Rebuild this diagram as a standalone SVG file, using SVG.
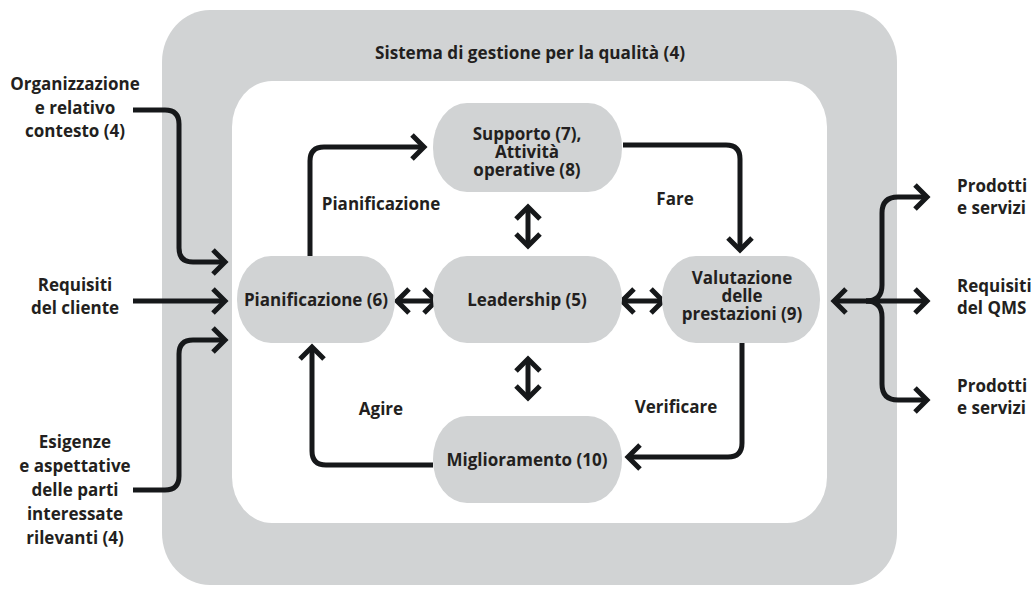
<svg xmlns="http://www.w3.org/2000/svg" width="1034" height="589" viewBox="0 0 1034 589">
<defs>
<style>
text{font-family:"Open Sans","Liberation Sans",sans-serif;font-weight:700;font-size:17px;fill:#231f20}
.c{text-anchor:middle}
.pill{fill:#d1d3d4}
.ln{fill:none;stroke:#16181a;stroke-width:5;stroke-linejoin:round}
.a{marker-end:url(#ah)}
.d{marker-start:url(#ah);marker-end:url(#ah)}
</style>
<marker id="ah" markerUnits="userSpaceOnUse" viewBox="-20 -20 40 40" markerWidth="40" markerHeight="40" refX="0" refY="0" orient="auto-start-reverse" overflow="visible">
<path d="M-12,-12 L0,0 L-12,12" fill="none" stroke="#16181a" stroke-width="5" stroke-linejoin="miter"/>
</marker>
</defs>
<rect width="1034" height="589" fill="#fff"/>
<g id="qms">
<rect x="162" y="10" width="735" height="575" rx="48" ry="52" fill="#d1d3d4"/>
<rect x="232" y="81" width="595" height="442" rx="40" ry="46" fill="#fff"/>
<text class="c" x="530" y="59" textLength="310" lengthAdjust="spacingAndGlyphs">Sistema di gestione per la qualità (4)</text>
</g>
<g id="connectors">
<path class="ln a" d="M133,110 H165 Q179,110 179,124 V248 Q179,262 193,262 H225"/>
<path class="ln a" d="M133,301 H225"/>
<path class="ln a" d="M133,490 H165 Q179,490 179,476 V354 Q179,340 193,340 H225"/>
<path class="ln a" d="M310,256 V161 Q310,147 324,147 H424"/>
<path class="ln a" d="M623,145 H726 Q740,145 740,159 V250"/>
<path class="ln a" d="M742,343 V443 Q742,457 728,457 H628"/>
<path class="ln a" d="M433,465 H326 Q312,465 312,451 V347"/>
<path class="ln d" d="M397,301 H436"/>
<path class="ln d" d="M622,301 H663"/>
<path class="ln d" d="M528,207 V246"/>
<path class="ln d" d="M528,359 V398"/>
<path class="ln d" d="M834,301 H927"/>
<path class="ln a" d="M866,301 Q882,301 882,285 V213 Q882,197 898,197 H927"/>
<path class="ln a" d="M866,301 Q882,301 882,317 V384 Q882,400 898,400 H927"/>
</g>
<g id="labels">
<text class="c" x="381" y="210">Pianificazione</text>
<text class="c" x="675" y="205">Fare</text>
<text class="c" x="381" y="415">Agire</text>
<text class="c" x="676" y="413">Verificare</text>
</g>
<g id="n-supporto">
<rect class="pill" x="433" y="103" width="189" height="89" rx="34" ry="44"/>
<text class="c" x="527" y="140">Supporto (7),<tspan x="527" dy="18">Attività</tspan><tspan x="527" dy="18">operative (8)</tspan></text>
</g>
<g id="n-pianificazione">
<rect class="pill" x="237" y="256" width="158" height="87" rx="34" ry="43"/>
<text class="c" x="316" y="306">Pianificazione (6)</text>
</g>
<g id="n-leadership">
<rect class="pill" x="433" y="256" width="189" height="87" rx="34" ry="43"/>
<text class="c" x="527" y="306">Leadership (5)</text>
</g>
<g id="n-valutazione">
<rect class="pill" x="662" y="256" width="158" height="87" rx="34" ry="43"/>
<text class="c" x="742" y="284">Valutazione<tspan x="742" dy="18">delle</tspan><tspan x="742" dy="18">prestazioni (9)</tspan></text>
</g>
<g id="n-miglioramento">
<rect class="pill" x="433" y="416" width="189" height="87" rx="34" ry="43"/>
<text class="c" x="527" y="466">Miglioramento (10)</text>
</g>
<g id="in-organizzazione">
<text class="c" x="75" y="90">Organizzazione<tspan x="75" dy="23.5">e relativo</tspan><tspan x="75" dy="23.5">contesto (4)</tspan></text>
</g>
<g id="in-requisiti">
<text class="c" x="75" y="291">Requisiti<tspan x="75" dy="23">del cliente</tspan></text>
</g>
<g id="in-esigenze">
<text class="c" x="75" y="448">Esigenze<tspan x="75" dy="24">e aspettative</tspan><tspan x="75" dy="24">delle parti</tspan><tspan x="75" dy="24">interessate</tspan><tspan x="75" dy="24">rilevanti (4)</tspan></text>
</g>
<g id="out-prodotti1">
<text x="957" y="192">Prodotti<tspan x="957" dy="22">e servizi</tspan></text>
</g>
<g id="out-requisiti">
<text x="957" y="292">Requisiti<tspan x="957" dy="22">del QMS</tspan></text>
</g>
<g id="out-prodotti2">
<text x="957" y="392">Prodotti<tspan x="957" dy="22">e servizi</tspan></text>
</g>
</svg>
